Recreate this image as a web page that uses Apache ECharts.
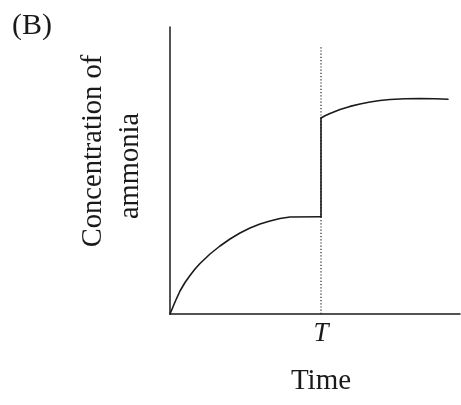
<!DOCTYPE html>
<html>
<head>
<meta charset="utf-8">
<script src="https://cdn.jsdelivr.net/npm/echarts@6/dist/echarts.min.js"></script>
<style>html,body{margin:0;padding:0;background:#fff}#c{width:461px;height:405px}</style>
</head>
<body>
<div id="c"></div>
<script>
// Time (arbitrary units), T marks the disturbance
var tMark = 151;
var xMax = 290;
var yMax = 287;
var lowerTime = [0, 5, 10, 15, 20, 25, 30, 40, 50, 60, 70, 80, 90, 100, 110, 120, 151];
var lowerConc = [0, 12, 23, 31.5, 38.5, 45, 50.5, 60, 68, 75, 81, 86, 90, 93, 95.5, 97, 97.3];
var jumpTime = [151, 151];
var jumpConc = [97.3, 196];
var upperTime = [151, 155, 160, 170, 180, 190, 200, 210, 220, 235, 250, 265, 278];
var upperConc = [196, 198.2, 200.5, 204.5, 207.6, 210, 212, 213.5, 214.5, 215.2, 215.4, 215.2, 214.8];
var dottedConc = [0, 267];
var yTitleLines = ['Concentration of', 'ammonia'];
var xTitle = 'Time';
var tLabel = 'T';
var panelLabel = '(B)';

function pairs(xs, ys) { return xs.map(function (x, i) { return [x, ys[i]]; }); }

var chart = echarts.init(document.getElementById('c'));
var fam = 'Liberation Serif';
var ink = '#1a1a1a';
var lineStyle = { color: ink, width: 1.6, cap: 'round', join: 'round' };
function txt(extra, style) {
  var s = Object.assign({ fontFamily: fam, fill: ink }, style);
  return Object.assign({ type: 'text', style: s }, extra);
}
chart.setOption({
  animation: false,
  grid: { left: 170, top: 27, right: 1, bottom: 91 },
  xAxis: { type: 'value', min: 0, max: xMax, axisLine: { show: true, onZero: false, lineStyle: { color: ink, width: 1.5 } },
           axisTick: { show: false }, axisLabel: { show: false }, splitLine: { show: false } },
  yAxis: { type: 'value', min: 0, max: yMax, axisLine: { show: true, onZero: false, lineStyle: { color: ink, width: 1.5 } },
           axisTick: { show: false }, axisLabel: { show: false }, splitLine: { show: false } },
  series: [
    { type: 'line', data: pairs([tMark, tMark], dottedConc), symbol: 'none', lineStyle: { color: '#222', width: 1.2, type: [1.2, 2] } },
    { type: 'line', data: pairs(lowerTime, lowerConc), symbol: 'none', lineStyle: lineStyle },
    { type: 'line', data: pairs(jumpTime, jumpConc), symbol: 'none', lineStyle: lineStyle },
    { type: 'line', data: pairs(upperTime, upperConc), symbol: 'none', lineStyle: lineStyle }
  ],
  graphic: [
    txt({ x: 32, y: 26 }, { text: panelLabel, fontSize: 30, textAlign: 'center', textVerticalAlign: 'middle' }),
    txt({ x: 94, y: 151 }, { text: yTitleLines[0], fontSize: 28.5, textAlign: 'center', textVerticalAlign: 'middle' }),
    txt({ x: 131, y: 166 }, { text: yTitleLines[1], fontSize: 28.5, textAlign: 'center', textVerticalAlign: 'middle' }),
    txt({ x: 321, y: 334 }, { text: tLabel, fontSize: 27, fontStyle: 'italic', textAlign: 'center', textVerticalAlign: 'middle' }),
    txt({ x: 321, y: 381 }, { text: xTitle, fontSize: 29, textAlign: 'center', textVerticalAlign: 'middle' })
  ]
});
// rotate the two y-title lines to read bottom-to-top
chart.setOption({ graphic: [{}, { rotation: Math.PI / 2 }, { rotation: Math.PI / 2 }, {}, {}] });
</script>
</body>
</html>
